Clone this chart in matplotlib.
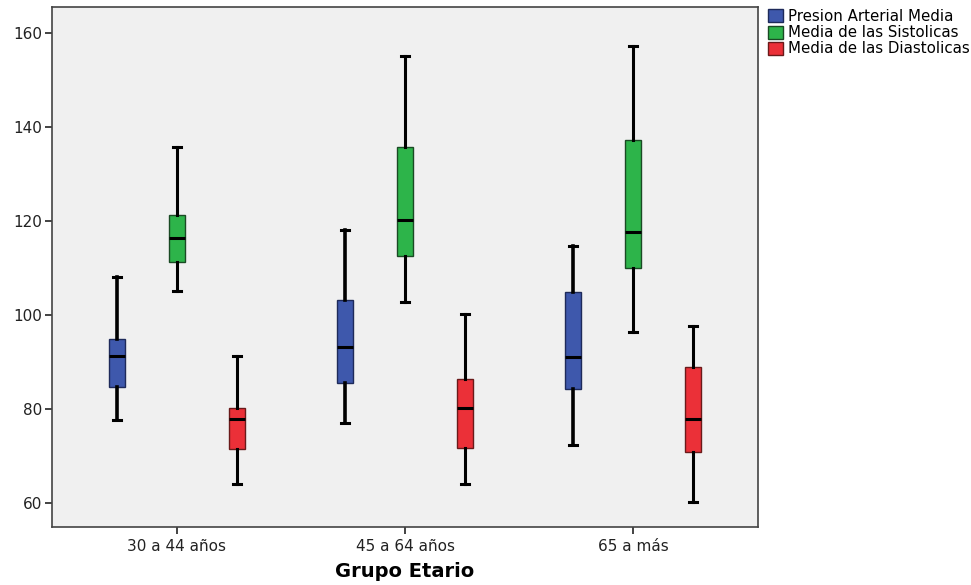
import matplotlib
matplotlib.use("Agg")
import matplotlib.pyplot as plt
from matplotlib.patches import Patch

groups = ["30 a 44 años", "45 a 64 años", "65 a más"]
series = ["Presion Arterial Media", "Media de las Sistolicas", "Media de las Diastolicas"]
colors = ["#3E58AC", "#2DB44A", "#EB3038"]
edges = ["#1E2A5A", "#1A4A24", "#6A1A1A"]

# [whisker low, Q1, median, Q3, whisker high] per group
pam = [[77.7, 84.7, 91.3, 94.9, 108.2],
       [77.0, 85.5, 93.3, 103.3, 118.1],
       [72.3, 84.2, 91.1, 105.0, 114.7]]
sis = [[105.2, 111.3, 116.5, 121.4, 135.7],
       [102.7, 112.6, 120.2, 135.7, 155.1],
       [96.5, 110.1, 117.7, 137.2, 157.4]]
dia = [[64.0, 71.5, 77.9, 80.3, 91.4],
       [64.0, 71.8, 80.3, 86.5, 100.2],
       [60.3, 70.9, 77.8, 88.9, 97.7]]
data = [pam, sis, dia]

plt.rcParams['font.family'] = ['DejaVu Sans']
fig = plt.figure(figsize=(9.71, 5.85), dpi=100)
ax = fig.add_axes([52/971, 1-527/585, (758-52)/971, (527-7)/585])
ax.set_facecolor("#F0F0F0")

offsets = [-0.263, 0.0, 0.263]
lws = [2.6, 2.2, 2.2]
for s, (vals, c, ec) in enumerate(zip(data, colors, edges)):
    stats = []
    for v in vals:
        stats.append(dict(whislo=v[0], q1=v[1], med=v[2], q3=v[3], whishi=v[4], fliers=[]))
    pos = [g + offsets[s] for g in range(len(groups))]
    ax.bxp(stats, positions=pos, widths=0.068, patch_artist=True, showfliers=False,
           boxprops=dict(facecolor=c, edgecolor=ec, linewidth=1.0),
           medianprops=dict(color="black", linewidth=2.2),
           whiskerprops=dict(color="black", linewidth=lws[s]),
           capprops=dict(color="black", linewidth=2.2),
           capwidths=0.038, manage_ticks=False, zorder=3)

ax.set_xlim(-0.548, 2.548)
ax.set_ylim(54.9, 165.6)
ax.set_yticks([60, 80, 100, 120, 140, 160])
ax.set_xticks(range(len(groups)))
ax.set_xticklabels(groups, fontsize=11, color="#222222")
ax.tick_params(axis='y', labelsize=11, length=5, width=1.2, colors="#222222", pad=2)
ax.tick_params(axis='x', length=5, width=1.2, colors="#222222")
for sp in ax.spines.values():
    sp.set_color("#444444")
    sp.set_linewidth(1.2)
ax.set_xlabel("Grupo Etario", fontsize=14, fontweight="bold", labelpad=6)

handles = [Patch(facecolor=c, edgecolor=ec, label=l) for c, ec, l in zip(colors, edges, series)]
fig.legend(handles=handles, loc="upper left", bbox_to_anchor=(759/971, 1.0), frameon=False,
           fontsize=10.8, handlelength=1.0, handleheight=0.95, handletextpad=0.3,
           labelspacing=0.08, borderaxespad=0.2)

fig.savefig("out.png", dpi=100)
